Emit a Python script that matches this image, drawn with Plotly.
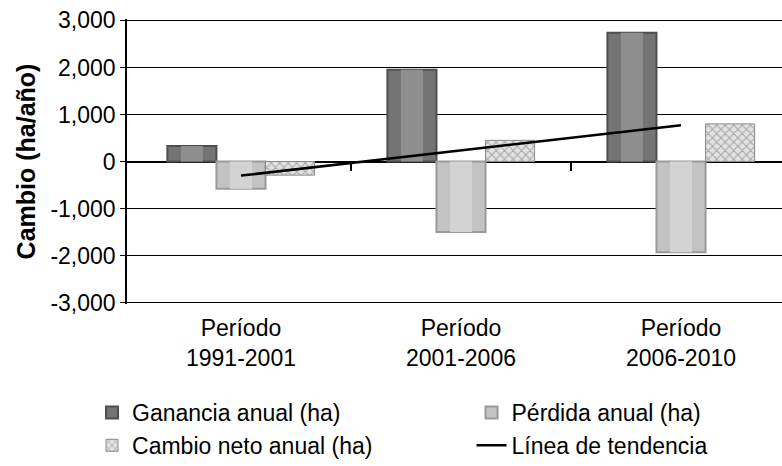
import plotly.graph_objects as go

# Periods (category axis)
periodos = ["Período<br>1991-2001", "Período<br>2001-2006", "Período<br>2006-2010"]
pos = [0, 1, 2]

# Annual change per period (ha/año)
ganancia = [330, 1950, 2740]
perdida = [-580, -1500, -1930]
cambio_neto = [-290, 450, 800]

# Linear trend of the net change, evaluated at the first and last period
tendencia_x = [0, 2]
tendencia_y = [-300, 770]

# Y axis ticks
y_ticks = [-3000, -2000, -1000, 0, 1000, 2000, 3000]
y_tick_labels = ["-3,000", "-2,000", "-1,000", "0", "1,000", "2,000", "3,000"]

FONT = "Liberation Sans, Arial, Helvetica, sans-serif"
W = 0.223  # width of one bar in category units

fig = go.Figure()

series = [
    ("Ganancia anual (ha)", ganancia, -1.5 * W, "#747474", "#4f4f4f", "#8e8e8e", "legend"),
    ("Pérdida anual (ha)", perdida, -0.5 * W, "#c3c3c3", "#9a9a9a", "#d3d3d3", "legend2"),
]
for name, vals, off, fill, edge, light, leg in series:
    fig.add_trace(go.Bar(
        x=pos, y=vals, name=name, width=W, offset=off, legend=leg,
        marker=dict(color=fill, line=dict(color=edge, width=2)),
    ))
    # lighter centre strip for a rounded look
    fig.add_trace(go.Bar(
        x=pos, y=vals, width=W * 0.45, offset=off + W * 0.275,
        marker=dict(color=light, line=dict(width=0)),
        showlegend=False, hoverinfo="skip",
    ))

fig.add_trace(go.Bar(
    x=pos, y=cambio_neto, name="Cambio neto anual (ha)", width=W, offset=0.5 * W,
    legend="legend",
    marker=dict(
        color="#d9d9d9",
        line=dict(color="#8a8a8a", width=1),
        pattern=dict(shape="x", fgcolor="#6a6a6a", bgcolor="#e2e2e2", size=6, solidity=0.3),
    ),
))

fig.add_trace(go.Scatter(
    x=tendencia_x, y=tendencia_y, mode="lines", name="Línea de tendencia",
    legend="legend2", line=dict(color="black", width=2.5),
))

# invisible trace to activate the second x axis (category boundary ticks on the zero line)
fig.add_trace(go.Scatter(x=[0.5], y=[0], xaxis="x2", mode="markers",
                         marker=dict(opacity=0), showlegend=False, hoverinfo="skip"))

legend_style = dict(
    orientation="v", xanchor="left", yanchor="top", y=-0.305,
    font=dict(size=23), traceorder="normal", bgcolor="rgba(0,0,0,0)",
    tracegroupgap=0,
)

fig.update_layout(
    width=782, height=466,
    margin=dict(l=127, r=0, t=19, b=162, autoexpand=False),
    paper_bgcolor="white", plot_bgcolor="white",
    barmode="overlay",
    font=dict(family=FONT, size=23, color="black"),
    showlegend=True,
    legend=dict(x=-0.0534, **legend_style),
    legend2=dict(x=0.526, **legend_style),
    xaxis=dict(
        range=[-0.518, 2.459], tickvals=pos, ticktext=periodos,
        showgrid=False, zeroline=False, showline=False, ticks="",
        tickfont=dict(size=23), ticklabelstandoff=8,
    ),
    xaxis2=dict(
        overlaying="x", anchor="free", position=0.5, side="bottom",
        range=[-0.518, 2.459], tickvals=[0.5, 1.5], ticks="outside",
        ticklen=8, tickcolor="black", tickwidth=1.5,
        showticklabels=False, showgrid=False, zeroline=False, showline=False,
    ),
    yaxis=dict(
        range=[-3030, 3030], tickvals=y_ticks, ticktext=y_tick_labels,
        showgrid=True, gridcolor="black", gridwidth=1,
        zeroline=True, zerolinecolor="black", zerolinewidth=1.5,
        showline=True, linecolor="black", linewidth=1.5,
        ticks="outside", ticklen=5, tickcolor="black",
        tickfont=dict(size=23),
        title=dict(text="<b>Cambio (ha/año)</b>", font=dict(size=25), standoff=8),
    ),
)

fig.write_html("out.html")
